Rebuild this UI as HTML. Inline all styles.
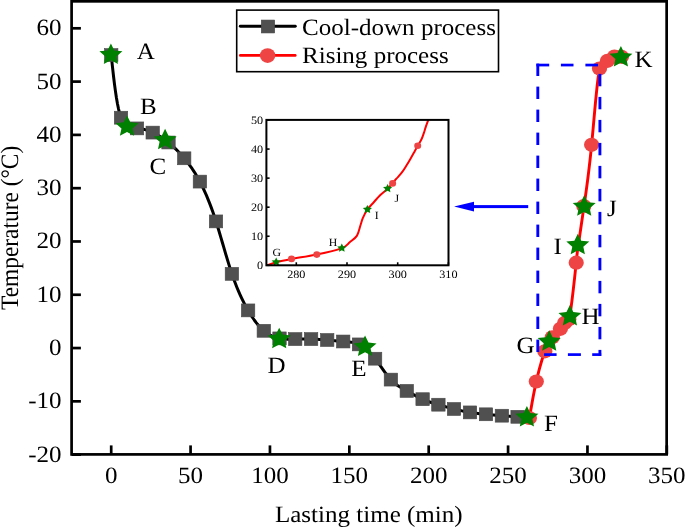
<!DOCTYPE html><html><head><meta charset="utf-8"><style>html,body{margin:0;padding:0;background:#fff}svg{display:block}text{fill:#000;font-family:"Liberation Serif",serif}</style></head><body><svg width="685" height="527" viewBox="0 0 685 527" text-rendering="geometricPrecision" style="will-change:transform">
<rect width="685" height="527" fill="#fff"/>
<path d="M111.20,55.10 L112.01,62.68 L112.84,70.18 L113.68,77.53 L114.55,84.63 L115.47,91.41 L116.43,97.79 L117.46,103.69 L118.55,109.03 L119.73,113.72 L121.00,117.70 L122.37,120.90 L123.82,123.39 L125.35,125.26 L126.93,126.60 L128.57,127.49 L130.24,128.02 L131.93,128.29 L133.63,128.39 L135.33,128.39 L137.00,128.40 L138.64,128.48 L140.26,128.65 L141.85,128.91 L143.43,129.24 L144.99,129.64 L146.53,130.11 L148.07,130.65 L149.61,131.24 L151.15,131.90 L152.70,132.60 L154.26,133.35 L155.82,134.15 L157.39,135.00 L158.97,135.90 L160.56,136.86 L162.15,137.87 L163.73,138.94 L165.32,140.06 L166.91,141.25 L168.50,142.50 L170.08,143.81 L171.66,145.19 L173.24,146.63 L174.81,148.13 L176.38,149.68 L177.95,151.30 L179.51,152.97 L181.08,154.69 L182.64,156.47 L184.20,158.30 L185.76,160.18 L187.32,162.13 L188.88,164.16 L190.44,166.27 L192.01,168.49 L193.57,170.83 L195.15,173.29 L196.72,175.90 L198.31,178.66 L199.90,181.60 L201.50,184.72 L203.10,188.02 L204.71,191.51 L206.33,195.19 L207.94,199.06 L209.56,203.13 L211.18,207.39 L212.79,211.86 L214.40,216.53 L216.00,221.40 L217.60,226.47 L219.19,231.71 L220.77,237.06 L222.36,242.48 L223.94,247.92 L225.52,253.34 L227.11,258.68 L228.70,263.92 L230.30,268.99 L231.90,273.85 L233.51,278.47 L235.13,282.84 L236.75,286.98 L238.38,290.90 L240.01,294.62 L241.64,298.13 L243.26,301.45 L244.88,304.60 L246.50,307.58 L248.10,310.40 L249.69,313.08 L251.28,315.61 L252.86,318.01 L254.43,320.26 L256.00,322.37 L257.56,324.33 L259.12,326.16 L260.68,327.85 L262.24,329.39 L263.80,330.80 L265.36,332.07 L266.93,333.21 L268.50,334.22 L270.07,335.12 L271.64,335.90 L273.21,336.58 L274.78,337.17 L276.36,337.66 L277.93,338.07 L279.50,338.40 L281.07,338.66 L282.64,338.86 L284.21,339.01 L285.77,339.10 L287.34,339.16 L288.91,339.18 L290.48,339.18 L292.05,339.16 L293.62,339.13 L295.20,339.10 L296.78,339.07 L298.36,339.05 L299.94,339.03 L301.53,339.02 L303.12,339.01 L304.71,339.01 L306.30,339.02 L307.90,339.04 L309.50,339.07 L311.10,339.10 L312.70,339.14 L314.31,339.20 L315.92,339.26 L317.53,339.34 L319.14,339.42 L320.75,339.51 L322.36,339.62 L323.98,339.73 L325.59,339.86 L327.20,340.00 L328.81,340.15 L330.42,340.31 L332.03,340.47 L333.63,340.63 L335.24,340.80 L336.84,340.96 L338.43,341.11 L340.03,341.26 L341.61,341.39 L343.20,341.50 L344.78,341.60 L346.36,341.69 L347.93,341.80 L349.51,341.95 L351.08,342.14 L352.66,342.39 L354.24,342.73 L355.82,343.16 L357.41,343.72 L359.00,344.40 L360.60,345.23 L362.21,346.21 L363.82,347.32 L365.43,348.58 L367.05,349.96 L368.67,351.47 L370.28,353.11 L371.89,354.86 L373.50,356.72 L375.10,358.70 L376.69,360.78 L378.28,362.93 L379.87,365.13 L381.44,367.36 L383.02,369.57 L384.60,371.76 L386.17,373.88 L387.74,375.91 L389.32,377.83 L390.90,379.60 L392.48,381.21 L394.07,382.66 L395.66,383.98 L397.25,385.17 L398.84,386.27 L400.44,387.29 L402.03,388.24 L403.62,389.15 L405.21,390.03 L406.80,390.90 L408.39,391.78 L409.97,392.65 L411.55,393.53 L413.13,394.40 L414.71,395.26 L416.28,396.10 L417.86,396.92 L419.44,397.72 L421.02,398.48 L422.60,399.20 L424.18,399.88 L425.77,400.52 L427.35,401.13 L428.94,401.71 L430.52,402.25 L432.10,402.78 L433.68,403.28 L435.26,403.76 L436.83,404.24 L438.40,404.70 L439.96,405.16 L441.52,405.61 L443.08,406.05 L444.63,406.49 L446.19,406.93 L447.74,407.36 L449.30,407.78 L450.86,408.19 L452.43,408.60 L454.00,409.00 L455.58,409.39 L457.17,409.78 L458.76,410.15 L460.36,410.52 L461.96,410.87 L463.57,411.21 L465.18,411.53 L466.78,411.84 L468.39,412.13 L470.00,412.40 L471.61,412.65 L473.21,412.88 L474.81,413.10 L476.41,413.30 L478.01,413.49 L479.61,413.66 L481.21,413.83 L482.81,413.99 L484.40,414.15 L486.00,414.30 L487.60,414.45 L489.19,414.60 L490.79,414.75 L492.38,414.89 L493.97,415.03 L495.56,415.17 L497.15,415.31 L498.73,415.44 L500.32,415.57 L501.90,415.70 L503.48,415.82 L505.05,415.94 L506.63,416.05 L508.20,416.17 L509.77,416.28 L511.34,416.38 L512.90,416.49 L514.47,416.59 L516.03,416.70 L517.60,416.80" fill="none" stroke="#000" stroke-width="3.0" stroke-linejoin="round"/>
<rect x="104.50" y="48.65" width="13.4" height="12.9" fill="#505050" stroke="#474747" stroke-width="0.6"/>
<rect x="114.30" y="111.25" width="13.4" height="12.9" fill="#505050" stroke="#474747" stroke-width="0.6"/>
<rect x="130.30" y="121.95" width="13.4" height="12.9" fill="#505050" stroke="#474747" stroke-width="0.6"/>
<rect x="146.00" y="126.15" width="13.4" height="12.9" fill="#505050" stroke="#474747" stroke-width="0.6"/>
<rect x="161.80" y="136.05" width="13.4" height="12.9" fill="#505050" stroke="#474747" stroke-width="0.6"/>
<rect x="177.50" y="151.85" width="13.4" height="12.9" fill="#505050" stroke="#474747" stroke-width="0.6"/>
<rect x="193.20" y="175.15" width="13.4" height="12.9" fill="#505050" stroke="#474747" stroke-width="0.6"/>
<rect x="209.30" y="214.95" width="13.4" height="12.9" fill="#505050" stroke="#474747" stroke-width="0.6"/>
<rect x="225.20" y="267.40" width="13.4" height="12.9" fill="#505050" stroke="#474747" stroke-width="0.6"/>
<rect x="241.40" y="303.95" width="13.4" height="12.9" fill="#505050" stroke="#474747" stroke-width="0.6"/>
<rect x="257.10" y="324.35" width="13.4" height="12.9" fill="#505050" stroke="#474747" stroke-width="0.6"/>
<rect x="272.80" y="331.95" width="13.4" height="12.9" fill="#505050" stroke="#474747" stroke-width="0.6"/>
<rect x="288.50" y="332.65" width="13.4" height="12.9" fill="#505050" stroke="#474747" stroke-width="0.6"/>
<rect x="304.40" y="332.65" width="13.4" height="12.9" fill="#505050" stroke="#474747" stroke-width="0.6"/>
<rect x="320.50" y="333.55" width="13.4" height="12.9" fill="#505050" stroke="#474747" stroke-width="0.6"/>
<rect x="336.50" y="335.05" width="13.4" height="12.9" fill="#505050" stroke="#474747" stroke-width="0.6"/>
<rect x="352.30" y="337.95" width="13.4" height="12.9" fill="#505050" stroke="#474747" stroke-width="0.6"/>
<rect x="368.40" y="352.25" width="13.4" height="12.9" fill="#505050" stroke="#474747" stroke-width="0.6"/>
<rect x="384.20" y="373.15" width="13.4" height="12.9" fill="#505050" stroke="#474747" stroke-width="0.6"/>
<rect x="400.10" y="384.45" width="13.4" height="12.9" fill="#505050" stroke="#474747" stroke-width="0.6"/>
<rect x="415.90" y="392.75" width="13.4" height="12.9" fill="#505050" stroke="#474747" stroke-width="0.6"/>
<rect x="431.70" y="398.25" width="13.4" height="12.9" fill="#505050" stroke="#474747" stroke-width="0.6"/>
<rect x="447.30" y="402.55" width="13.4" height="12.9" fill="#505050" stroke="#474747" stroke-width="0.6"/>
<rect x="463.30" y="405.95" width="13.4" height="12.9" fill="#505050" stroke="#474747" stroke-width="0.6"/>
<rect x="479.30" y="407.85" width="13.4" height="12.9" fill="#505050" stroke="#474747" stroke-width="0.6"/>
<rect x="495.20" y="409.25" width="13.4" height="12.9" fill="#505050" stroke="#474747" stroke-width="0.6"/>
<rect x="510.90" y="410.35" width="13.4" height="12.9" fill="#505050" stroke="#474747" stroke-width="0.6"/>
<path d="M529.40,418.00 L530.04,414.29 L530.68,410.58 L531.33,406.88 L531.98,403.18 L532.65,399.51 L533.34,395.85 L534.04,392.22 L534.77,388.62 L535.52,385.04 L536.30,381.50 L537.11,378.00 L537.95,374.56 L538.80,371.19 L539.67,367.92 L540.54,364.76 L541.42,361.73 L542.29,358.85 L543.15,356.14 L543.99,353.62 L544.80,351.30 L545.59,349.20 L546.35,347.31 L547.09,345.60 L547.82,344.06 L548.54,342.67 L549.27,341.41 L550.00,340.26 L550.75,339.21 L551.51,338.23 L552.30,337.30 L553.12,336.41 L553.96,335.55 L554.82,334.71 L555.68,333.89 L556.53,333.07 L557.37,332.25 L558.19,331.42 L558.97,330.57 L559.71,329.70 L560.40,328.80 L561.03,327.87 L561.61,326.92 L562.14,326.00 L562.62,325.14 L563.07,324.36 L563.49,323.69 L563.89,323.17 L564.27,322.83 L564.64,322.69 L565.00,322.80 L565.37,323.15 L565.74,323.64 L566.12,324.14 L566.52,324.52 L566.95,324.65 L567.40,324.40 L567.89,323.64 L568.41,322.24 L568.98,320.07 L569.60,317.00 L570.27,312.96 L570.98,308.08 L571.71,302.57 L572.45,296.61 L573.19,290.42 L573.90,284.18 L574.57,278.09 L575.19,272.35 L575.74,267.15 L576.20,262.70 L576.57,259.13 L576.86,256.35 L577.08,254.21 L577.25,252.57 L577.40,251.29 L577.53,250.21 L577.67,249.19 L577.83,248.07 L578.04,246.73 L578.30,245.00 L578.64,242.77 L579.04,240.07 L579.51,236.92 L580.04,233.37 L580.61,229.48 L581.23,225.27 L581.89,220.81 L582.57,216.13 L583.28,211.28 L584.00,206.30 L584.73,201.22 L585.47,196.02 L586.22,190.65 L586.98,185.07 L587.74,179.23 L588.50,173.10 L589.27,166.64 L590.05,159.79 L590.82,152.53 L591.60,144.80 L592.38,136.60 L593.16,128.07 L593.94,119.38 L594.72,110.70 L595.51,102.21 L596.30,94.08 L597.09,86.48 L597.89,79.58 L598.69,73.57 L599.50,68.60 L600.31,64.80 L601.13,62.08 L601.95,60.28 L602.76,59.25 L603.57,58.84 L604.38,58.90 L605.18,59.27 L605.97,59.82 L606.74,60.38 L607.50,60.80 L608.24,60.97 L608.97,60.89 L609.68,60.62 L610.39,60.18 L611.08,59.63 L611.77,59.00 L612.45,58.34 L613.14,57.70 L613.82,57.10 L614.50,56.60 L615.19,56.23 L615.88,55.98 L616.57,55.84 L617.27,55.80 L617.97,55.84 L618.68,55.95 L619.38,56.11 L620.09,56.32 L620.79,56.55 L621.50,56.80" fill="none" stroke="#f00" stroke-width="2.9" stroke-linejoin="round"/>
<ellipse cx="529.4" cy="418" rx="7.6" ry="7.1" fill="#ef4444"/>
<ellipse cx="536.3" cy="381.5" rx="7.6" ry="7.1" fill="#ef4444"/>
<ellipse cx="544.8" cy="351.3" rx="7.6" ry="7.1" fill="#ef4444"/>
<ellipse cx="552.3" cy="337.3" rx="7.6" ry="7.1" fill="#ef4444"/>
<ellipse cx="560.4" cy="328.8" rx="7.6" ry="7.1" fill="#ef4444"/>
<ellipse cx="564.6" cy="323" rx="7.6" ry="7.1" fill="#ef4444"/>
<ellipse cx="568.8" cy="319.3" rx="7.6" ry="7.1" fill="#ef4444"/>
<ellipse cx="576.2" cy="262.7" rx="7.6" ry="7.1" fill="#ef4444"/>
<ellipse cx="583.8" cy="206" rx="7.6" ry="7.1" fill="#ef4444"/>
<ellipse cx="591.6" cy="144.8" rx="7.6" ry="7.1" fill="#ef4444"/>
<ellipse cx="599.5" cy="68.6" rx="7.6" ry="7.1" fill="#ef4444"/>
<ellipse cx="607.5" cy="60.8" rx="7.6" ry="7.1" fill="#ef4444"/>
<ellipse cx="614.5" cy="56.6" rx="7.6" ry="7.1" fill="#ef4444"/>
<ellipse cx="621.5" cy="56.8" rx="7.6" ry="7.1" fill="#ef4444"/>
<path d="M110.90,43.50 L114.31,50.41 L122.40,51.31 L116.42,56.48 L118.01,63.94 L110.90,60.22 L103.79,63.94 L105.38,56.48 L99.40,51.31 L107.49,50.41Z" fill="#008000"/>
<path d="M127.00,115.40 L130.41,122.31 L138.50,123.21 L132.52,128.38 L134.11,135.84 L127.00,132.12 L119.89,135.84 L121.48,128.38 L115.50,123.21 L123.59,122.31Z" fill="#008000"/>
<path d="M165.10,128.80 L168.51,135.71 L176.60,136.61 L170.62,141.78 L172.21,149.24 L165.10,145.52 L157.99,149.24 L159.58,141.78 L153.60,136.61 L161.69,135.71Z" fill="#008000"/>
<path d="M279.20,327.70 L282.61,334.61 L290.70,335.51 L284.72,340.68 L286.31,348.14 L279.20,344.42 L272.09,348.14 L273.68,340.68 L267.70,335.51 L275.79,334.61Z" fill="#008000"/>
<path d="M365.05,335.60 L368.46,342.51 L376.55,343.41 L370.57,348.58 L372.16,356.04 L365.05,352.32 L357.94,356.04 L359.53,348.58 L353.55,343.41 L361.64,342.51Z" fill="#008000"/>
<path d="M526.90,406.00 L530.31,412.91 L538.40,413.81 L532.42,418.98 L534.01,426.44 L526.90,422.72 L519.79,426.44 L521.38,418.98 L515.40,413.81 L523.49,412.91Z" fill="#008000"/>
<path d="M549.20,330.30 L552.61,337.21 L560.70,338.11 L554.72,343.28 L556.31,350.74 L549.20,347.02 L542.09,350.74 L543.68,343.28 L537.70,338.11 L545.79,337.21Z" fill="#008000"/>
<path d="M569.90,305.10 L573.31,312.01 L581.40,312.91 L575.42,318.08 L577.01,325.54 L569.90,321.82 L562.79,325.54 L564.38,318.08 L558.40,312.91 L566.49,312.01Z" fill="#008000"/>
<path d="M577.80,233.80 L581.21,240.71 L589.30,241.61 L583.32,246.78 L584.91,254.24 L577.80,250.52 L570.69,254.24 L572.28,246.78 L566.30,241.61 L574.39,240.71Z" fill="#008000"/>
<path d="M584.20,195.30 L587.61,202.21 L595.70,203.11 L589.72,208.28 L591.31,215.74 L584.20,212.02 L577.09,215.74 L578.68,208.28 L572.70,203.11 L580.79,202.21Z" fill="#008000"/>
<path d="M620.90,46.05 L624.31,52.96 L632.40,53.86 L626.42,59.03 L628.01,66.49 L620.90,62.77 L613.79,66.49 L615.38,59.03 L609.40,53.86 L617.49,52.96Z" fill="#008000"/>
<text transform="translate(136.80,58.60) scale(1.07,1)" font-size="23.4" text-anchor="start">A</text>
<text transform="translate(140.00,113.70) scale(1.07,1)" font-size="23.4" text-anchor="start">B</text>
<text transform="translate(149.40,174.10) scale(1.07,1)" font-size="23.4" text-anchor="start">C</text>
<text transform="translate(267.40,373.40) scale(1.07,1)" font-size="23.4" text-anchor="start">D</text>
<text transform="translate(351.20,375.80) scale(1.07,1)" font-size="23.4" text-anchor="start">E</text>
<text transform="translate(544.10,431.30) scale(1.07,1)" font-size="23.4" text-anchor="start">F</text>
<text transform="translate(516.50,353.10) scale(1.07,1)" font-size="23.4" text-anchor="start">G</text>
<text transform="translate(581.40,324.20) scale(1.07,1)" font-size="23.4" text-anchor="start">H</text>
<text transform="translate(553.60,253.60) scale(1.07,1)" font-size="23.4" text-anchor="start">I</text>
<text transform="translate(607.10,216.10) scale(1.07,1)" font-size="23.4" text-anchor="start">J</text>
<text transform="translate(634.50,67.20) scale(1.07,1)" font-size="23.4" text-anchor="start">K</text>
<rect x="536.40" y="63.70" width="12.80" height="2.7" fill="#0000ff"/>
<rect x="560.90" y="63.70" width="12.60" height="2.7" fill="#0000ff"/>
<rect x="585.40" y="63.70" width="12.60" height="2.7" fill="#0000ff"/>
<rect x="544.10" y="353.25" width="12.50" height="2.7" fill="#0000ff"/>
<rect x="567.90" y="353.25" width="13.00" height="2.7" fill="#0000ff"/>
<rect x="592.20" y="353.25" width="9.00" height="2.7" fill="#0000ff"/>
<rect x="598.46" y="73.90" width="2.89" height="12.40" fill="#0000ff"/>
<rect x="598.46" y="96.90" width="2.89" height="12.40" fill="#0000ff"/>
<rect x="598.46" y="119.90" width="2.89" height="12.40" fill="#0000ff"/>
<rect x="598.46" y="142.90" width="2.89" height="12.40" fill="#0000ff"/>
<rect x="598.46" y="165.90" width="2.89" height="12.40" fill="#0000ff"/>
<rect x="598.46" y="188.90" width="2.89" height="12.40" fill="#0000ff"/>
<rect x="598.46" y="211.90" width="2.89" height="12.40" fill="#0000ff"/>
<rect x="598.46" y="234.90" width="2.89" height="12.40" fill="#0000ff"/>
<rect x="598.46" y="257.90" width="2.89" height="12.40" fill="#0000ff"/>
<rect x="598.46" y="280.90" width="2.89" height="12.40" fill="#0000ff"/>
<rect x="598.46" y="303.90" width="2.89" height="12.40" fill="#0000ff"/>
<rect x="598.46" y="326.90" width="2.89" height="12.40" fill="#0000ff"/>
<rect x="598.46" y="349.90" width="2.89" height="6.05" fill="#0000ff"/>
<rect x="536.36" y="63.60" width="2.89" height="12.40" fill="#0000ff"/>
<rect x="536.36" y="86.60" width="2.89" height="12.40" fill="#0000ff"/>
<rect x="536.36" y="109.60" width="2.89" height="12.40" fill="#0000ff"/>
<rect x="536.36" y="132.60" width="2.89" height="12.40" fill="#0000ff"/>
<rect x="536.36" y="155.60" width="2.89" height="12.40" fill="#0000ff"/>
<rect x="536.36" y="178.60" width="2.89" height="12.40" fill="#0000ff"/>
<rect x="536.36" y="201.60" width="2.89" height="12.40" fill="#0000ff"/>
<rect x="536.36" y="224.60" width="2.89" height="12.40" fill="#0000ff"/>
<rect x="536.36" y="247.60" width="2.89" height="12.40" fill="#0000ff"/>
<rect x="536.36" y="270.60" width="2.89" height="12.40" fill="#0000ff"/>
<rect x="536.36" y="293.60" width="2.89" height="12.40" fill="#0000ff"/>
<rect x="536.36" y="316.60" width="2.89" height="12.40" fill="#0000ff"/>
<rect x="536.36" y="339.60" width="2.89" height="12.40" fill="#0000ff"/>
<rect x="472" y="205.1" width="56.2" height="3" fill="#0000ff"/>
<path d="M454.1,206.6 L474,201.8 L474,211.4 Z" fill="#0000ff"/>
<defs><clipPath id="ic"><rect x="266.4" y="119.9" width="182.1" height="145.4"/></clipPath></defs>
<path d="M266.40,265.60 C269.67,264.47 272.02,263.32 276.20,262.20 C280.38,261.08 284.73,260.17 291.50,258.90 C298.27,257.63 308.42,256.40 316.80,254.60 C325.18,252.80 336.32,250.15 341.80,248.10 C347.28,246.05 347.17,244.38 349.70,242.30 C352.23,240.22 355.22,238.40 357.00,235.60 C358.78,232.80 359.43,228.40 360.40,225.50 C361.37,222.60 361.63,220.87 362.80,218.20 C363.97,215.53 365.53,212.20 367.40,209.50 C369.27,206.80 371.88,204.38 374.00,202.00 C376.12,199.62 377.82,197.43 380.10,195.20 C382.38,192.97 385.65,190.58 387.70,188.60 C389.75,186.62 390.95,184.95 392.40,183.30 C393.85,181.65 394.85,180.47 396.40,178.70 C397.95,176.93 400.05,174.85 401.70,172.70 C403.35,170.55 404.78,168.22 406.30,165.80 C407.82,163.38 409.42,160.60 410.80,158.20 C412.18,155.80 413.45,153.47 414.60,151.40 C415.75,149.33 416.55,147.82 417.70,145.80 C418.85,143.78 420.48,141.40 421.50,139.30 C422.52,137.20 423.10,135.23 423.80,133.20 C424.50,131.17 424.95,129.32 425.70,127.10 C426.45,124.88 427.43,122.30 428.30,119.90" fill="none" stroke="#f00" stroke-width="2" clip-path="url(#ic)"/>
<ellipse cx="291.5" cy="258.9" rx="3.5" ry="3.3" fill="#ef4444"/>
<ellipse cx="316.8" cy="254.6" rx="3.5" ry="3.3" fill="#ef4444"/>
<ellipse cx="392.6" cy="183.4" rx="3.5" ry="3.3" fill="#ef4444"/>
<ellipse cx="417.7" cy="145.8" rx="3.5" ry="3.3" fill="#ef4444"/>
<path d="M276.20,257.50 L277.62,260.18 L280.78,260.61 L278.49,262.70 L279.03,265.64 L276.20,264.25 L273.37,265.64 L273.91,262.70 L271.62,260.61 L274.78,260.18Z" fill="#008000"/>
<path d="M341.80,243.50 L343.22,246.18 L346.38,246.61 L344.09,248.70 L344.63,251.64 L341.80,250.25 L338.97,251.64 L339.51,248.70 L337.22,246.61 L340.38,246.18Z" fill="#008000"/>
<path d="M367.40,204.90 L368.82,207.58 L371.98,208.01 L369.69,210.10 L370.23,213.04 L367.40,211.65 L364.57,213.04 L365.11,210.10 L362.82,208.01 L365.98,207.58Z" fill="#008000"/>
<path d="M387.60,184.00 L389.02,186.68 L392.18,187.11 L389.89,189.20 L390.43,192.14 L387.60,190.75 L384.77,192.14 L385.31,189.20 L383.02,187.11 L386.18,186.68Z" fill="#008000"/>
<rect x="266.4" y="119.9" width="182.10000000000002" height="145.4" fill="none" stroke="#000" stroke-width="2"/>
<line x1="266.4" y1="265.30" x2="269.59999999999997" y2="265.30" stroke="#000" stroke-width="1.6"/>
<text transform="translate(263.20,269.20) scale(1.07,1)" font-size="11.4" text-anchor="end">0</text>
<line x1="266.4" y1="236.24" x2="269.59999999999997" y2="236.24" stroke="#000" stroke-width="1.6"/>
<text transform="translate(263.20,240.14) scale(1.07,1)" font-size="11.4" text-anchor="end">10</text>
<line x1="266.4" y1="207.18" x2="269.59999999999997" y2="207.18" stroke="#000" stroke-width="1.6"/>
<text transform="translate(263.20,211.08) scale(1.07,1)" font-size="11.4" text-anchor="end">20</text>
<line x1="266.4" y1="178.12" x2="269.59999999999997" y2="178.12" stroke="#000" stroke-width="1.6"/>
<text transform="translate(263.20,182.02) scale(1.07,1)" font-size="11.4" text-anchor="end">30</text>
<line x1="266.4" y1="149.06" x2="269.59999999999997" y2="149.06" stroke="#000" stroke-width="1.6"/>
<text transform="translate(263.20,152.96) scale(1.07,1)" font-size="11.4" text-anchor="end">40</text>
<line x1="266.4" y1="120.00" x2="269.59999999999997" y2="120.00" stroke="#000" stroke-width="1.6"/>
<text transform="translate(263.20,123.90) scale(1.07,1)" font-size="11.4" text-anchor="end">50</text>
<line x1="296.30" y1="265.3" x2="296.30" y2="262.3" stroke="#000" stroke-width="1.6"/>
<text transform="translate(296.30,277.70) scale(1.07,1)" font-size="11.4" text-anchor="middle">280</text>
<line x1="347.00" y1="265.3" x2="347.00" y2="262.3" stroke="#000" stroke-width="1.6"/>
<text transform="translate(347.00,277.70) scale(1.07,1)" font-size="11.4" text-anchor="middle">290</text>
<line x1="397.70" y1="265.3" x2="397.70" y2="262.3" stroke="#000" stroke-width="1.6"/>
<text transform="translate(397.70,277.70) scale(1.07,1)" font-size="11.4" text-anchor="middle">300</text>
<line x1="448.40" y1="265.3" x2="448.40" y2="262.3" stroke="#000" stroke-width="1.6"/>
<text transform="translate(448.40,277.70) scale(1.07,1)" font-size="11.4" text-anchor="middle">310</text>
<text transform="translate(272.40,256.00) scale(1.07,1)" font-size="11.0" text-anchor="start">G</text>
<text transform="translate(328.70,245.60) scale(1.07,1)" font-size="11.0" text-anchor="start">H</text>
<text transform="translate(374.70,218.90) scale(1.07,1)" font-size="11.0" text-anchor="start">I</text>
<text transform="translate(394.40,201.90) scale(1.07,1)" font-size="11.0" text-anchor="start">J</text>
<rect x="71.6" y="1.33" width="595.05" height="453.07" fill="none" stroke="#000" stroke-width="2.7"/>
<line x1="71.6" y1="454.63" x2="80.9" y2="454.63" stroke="#000" stroke-width="2.7"/>
<text transform="translate(61.50,461.53) scale(1.07,1)" font-size="23.4" text-anchor="end">-20</text>
<line x1="71.6" y1="401.34" x2="80.9" y2="401.34" stroke="#000" stroke-width="2.7"/>
<text transform="translate(61.50,408.24) scale(1.07,1)" font-size="23.4" text-anchor="end">-10</text>
<line x1="71.6" y1="348.05" x2="80.9" y2="348.05" stroke="#000" stroke-width="2.7"/>
<text transform="translate(61.50,354.95) scale(1.07,1)" font-size="23.4" text-anchor="end">0</text>
<line x1="71.6" y1="294.76" x2="80.9" y2="294.76" stroke="#000" stroke-width="2.7"/>
<text transform="translate(61.50,301.66) scale(1.07,1)" font-size="23.4" text-anchor="end">10</text>
<line x1="71.6" y1="241.47" x2="80.9" y2="241.47" stroke="#000" stroke-width="2.7"/>
<text transform="translate(61.50,248.37) scale(1.07,1)" font-size="23.4" text-anchor="end">20</text>
<line x1="71.6" y1="188.18" x2="80.9" y2="188.18" stroke="#000" stroke-width="2.7"/>
<text transform="translate(61.50,195.08) scale(1.07,1)" font-size="23.4" text-anchor="end">30</text>
<line x1="71.6" y1="134.89" x2="80.9" y2="134.89" stroke="#000" stroke-width="2.7"/>
<text transform="translate(61.50,141.79) scale(1.07,1)" font-size="23.4" text-anchor="end">40</text>
<line x1="71.6" y1="81.60" x2="80.9" y2="81.60" stroke="#000" stroke-width="2.7"/>
<text transform="translate(61.50,88.50) scale(1.07,1)" font-size="23.4" text-anchor="end">50</text>
<line x1="71.6" y1="28.31" x2="80.9" y2="28.31" stroke="#000" stroke-width="2.7"/>
<text transform="translate(61.50,35.21) scale(1.07,1)" font-size="23.4" text-anchor="end">60</text>
<line x1="111.20" y1="454.4" x2="111.20" y2="445.4" stroke="#000" stroke-width="2.7"/>
<text transform="translate(111.20,482.90) scale(1.07,1)" font-size="23.4" text-anchor="middle">0</text>
<line x1="190.57" y1="454.4" x2="190.57" y2="445.4" stroke="#000" stroke-width="2.7"/>
<text transform="translate(190.57,482.90) scale(1.07,1)" font-size="23.4" text-anchor="middle">50</text>
<line x1="269.95" y1="454.4" x2="269.95" y2="445.4" stroke="#000" stroke-width="2.7"/>
<text transform="translate(269.95,482.90) scale(1.07,1)" font-size="23.4" text-anchor="middle">100</text>
<line x1="349.32" y1="454.4" x2="349.32" y2="445.4" stroke="#000" stroke-width="2.7"/>
<text transform="translate(349.32,482.90) scale(1.07,1)" font-size="23.4" text-anchor="middle">150</text>
<line x1="428.70" y1="454.4" x2="428.70" y2="445.4" stroke="#000" stroke-width="2.7"/>
<text transform="translate(428.70,482.90) scale(1.07,1)" font-size="23.4" text-anchor="middle">200</text>
<line x1="508.07" y1="454.4" x2="508.07" y2="445.4" stroke="#000" stroke-width="2.7"/>
<text transform="translate(508.07,482.90) scale(1.07,1)" font-size="23.4" text-anchor="middle">250</text>
<line x1="587.45" y1="454.4" x2="587.45" y2="445.4" stroke="#000" stroke-width="2.7"/>
<text transform="translate(587.45,482.90) scale(1.07,1)" font-size="23.4" text-anchor="middle">300</text>
<line x1="666.83" y1="454.4" x2="666.83" y2="445.4" stroke="#000" stroke-width="2.7"/>
<text transform="translate(666.83,482.90) scale(1.07,1)" font-size="23.4" text-anchor="middle">350</text>
<text transform="translate(368.80,521.70) scale(1.07,1)" font-size="23.4" text-anchor="middle">Lasting time (min)</text>
<text transform="translate(17.9,227.9) rotate(-90) scale(1,1.07)" font-size="23.4" text-anchor="middle">Temperature (°C)</text>
<rect x="236.7" y="10.1" width="261.8" height="61.6" fill="#fff" stroke="#000" stroke-width="1.6"/>
<line x1="240.3" y1="26.3" x2="295.3" y2="26.3" stroke="#000" stroke-width="2.9" stroke-linecap="round"/>
<rect x="261.30" y="20.05" width="13.4" height="12.9" fill="#505050" stroke="#474747" stroke-width="0.6"/>
<line x1="240.3" y1="55.4" x2="295.3" y2="55.4" stroke="#f00" stroke-width="2.6" stroke-linecap="round"/>
<ellipse cx="267.6" cy="55.6" rx="7.7" ry="7.4" fill="#ef4444"/>
<text transform="translate(302.00,34.60) scale(1.07,1)" font-size="23.4" text-anchor="start">Cool-down process</text>
<text transform="translate(302.00,63.40) scale(1.07,1)" font-size="23.4" text-anchor="start">Rising process</text>
</svg></body></html>
